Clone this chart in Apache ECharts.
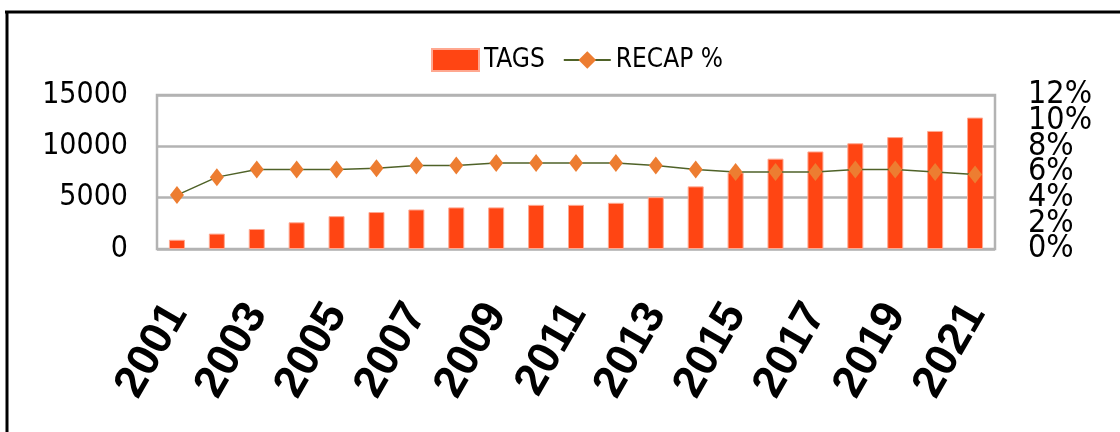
<!DOCTYPE html>
<html>
<head>
<meta charset="utf-8">
<style>html,body{margin:0;padding:0;background:#fff;}#c{width:1120px;height:432px;}</style>
<script src="https://cdn.jsdelivr.net/npm/echarts@6/dist/echarts.min.js"></script>
</head>
<body>
<div id="c"></div>
<script>
const years = ['2001','2002','2003','2004','2005','2006','2007','2008','2009','2010','2011','2012','2013','2014','2015','2016','2017','2018','2019','2020','2021'];
const tags = [900,1500,1950,2600,3200,3600,3850,4050,4050,4300,4300,4500,5050,6100,7450,8800,9500,10300,10900,11500,12800];
const recapPct = [4.2,5.6,6.2,6.2,6.2,6.3,6.5,6.5,6.7,6.7,6.7,6.7,6.5,6.2,6.0,6.0,6.0,6.2,6.2,6.0,5.8];
const leftTicks = [0,5000,10000,15000];
const rightTicks = [0,2,4,6,8,10,12];

const chart = echarts.init(document.getElementById('c'), null, {renderer:'canvas'});
const narrow = '"DejaVu Sans Condensed","Liberation Sans",Arial,sans-serif';
const rightLabel = {margin:33, formatter:'{value}%', fontFamily:narrow, fontSize:32, color:'#000'};
const rightAxis = (vals) => ({
  type:'value', min:0, max:12, position:'right',
  axisLine:{show:false}, axisTick:{show:false}, splitLine:{show:false},
  axisLabel:Object.assign({customValues:vals}, rightLabel)
});
chart.setOption({
  animation:false,
  backgroundColor:'#fff',
  graphic:[
    {type:'line', shape:{x1:5,y1:12,x2:1120,y2:12}, style:{stroke:'#000',lineWidth:3}},
    {type:'line', shape:{x1:7,y1:12,x2:7,y2:432}, style:{stroke:'#000',lineWidth:3}}
  ],
  legend:{
    top:42, left:426, itemWidth:47, itemHeight:22, itemGap:18,
    textStyle:{fontFamily:narrow, fontSize:26, color:'#000'},
    data:[{name:'TAGS', icon:'rect'},{name:'RECAP %'}]
  },
  grid:{left:157, right:125, top:95, bottom:183, show:true, borderColor:'#B3B3B3', borderWidth:2.5},
  xAxis:{
    type:'category', data:years,
    axisLine:{show:false}, axisTick:{show:false},
    axisLabel:{interval:1, rotate:60, margin:58, fontFamily:'"Liberation Sans",Arial,sans-serif', fontWeight:'bold', fontSize:45, color:'#000'}
  },
  yAxis:[
    {type:'value', min:0, max:15000, interval:5000,
     axisLine:{show:false}, axisTick:{show:false},
     splitLine:{lineStyle:{color:'#B3B3B3', width:2.5}},
     axisLabel:{margin:29, formatter:(v)=>String(v), fontFamily:narrow, fontSize:30, color:'#000'}},
    rightAxis(rightTicks.filter((v,i)=>i%2===0)),
    rightAxis(rightTicks.filter((v,i)=>i%2===1))
  ],
  series:[
    {name:'TAGS', type:'bar', data:tags, barWidth:16,
     itemStyle:{color:'#FF4513', borderColor:'#FFA890', borderWidth:1}},
    {name:'RECAP %', type:'line', yAxisIndex:1, data:recapPct,
     symbol:'diamond', symbolSize:[14,18],
     lineStyle:{color:'#4F6228', width:1.5},
     itemStyle:{color:'#ED7D31'}, z:3}
  ]
});
</script>
</body>
</html>
